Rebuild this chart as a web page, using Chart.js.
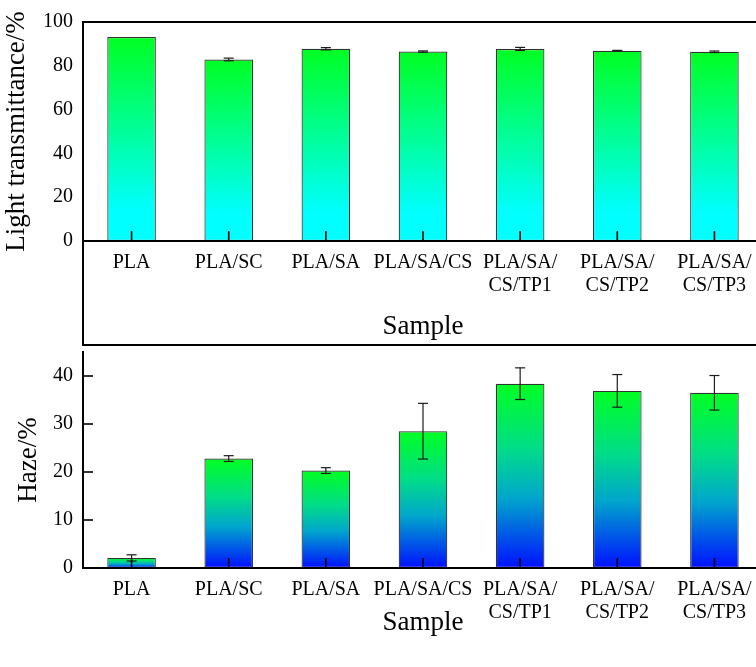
<!DOCTYPE html>
<html>
<head>
<meta charset="utf-8">
<script src="https://cdn.jsdelivr.net/npm/chart.js@4.4.1/dist/chart.umd.min.js"></script>
<style>
  html, body { margin: 0; padding: 0; background: #fff; overflow: hidden; width: 756px; height: 667px; }
  #wrap { position: relative; width: 756px; height: 667px; overflow: hidden; }
  canvas { position: absolute; left: 0; }
  #topChart { top: 0; }
  #bottomChart { top: 330px; }
</style>
</head>
<body>
<div id="wrap">
  <canvas id="topChart" width="770" height="347"></canvas>
  <canvas id="bottomChart" width="770" height="337"></canvas>
</div>
<script>
// Sample names ("\n" marks a line break in the axis label)
const samples = ['PLA', 'PLA/SC', 'PLA/SA', 'PLA/SA/CS', 'PLA/SA/\nCS/TP1', 'PLA/SA/\nCS/TP2', 'PLA/SA/\nCS/TP3'];

// Light transmittance (%) with standard deviation
const transmittance = [93.1, 82.9, 87.8, 86.5, 87.7, 86.9, 86.4];
const transmittanceErr = [0, 0.6, 0.5, 0.3, 0.7, 0.15, 0.35];

// Haze (%) with standard deviation
const haze = [2.1, 22.8, 20.3, 28.5, 38.4, 36.9, 36.5];
const hazeErr = [0.65, 0.6, 0.6, 5.8, 3.3, 3.4, 3.6];

// Axis tick values
const transTicks = [0, 20, 40, 60, 80, 100];
const hazeTicks = [0, 10, 20, 30, 40];

const SERIF = "'Liberation Serif', 'Times New Roman', serif";
const labels = samples.map(s => s.split('\n'));

// Vertical gradient spanning each bar from its top down to the zero line
function barGradient(stops) {
  return (c) => {
    const chart = c.chart;
    if (!chart.chartArea || c.type !== 'data' || !c.parsed) return stops[0][1];
    const y = chart.scales.y;
    const top = y.getPixelForValue(c.parsed.y);
    const base = y.getPixelForValue(0);
    const g = chart.ctx.createLinearGradient(0, top, 0, base);
    stops.forEach(([o, col]) => g.addColorStop(o, col));
    return g;
  };
}

// Error bars, inward tick marks and the panel frame
function decorPlugin(errs, opts) {
  return {
    id: 'decor',
    afterDatasetsDraw(chart) {
      const { ctx, chartArea: a, scales: { x, y } } = chart;
      const W = chart.width, H = chart.height;
      const seg = (x1, y1, x2, y2) => { ctx.beginPath(); ctx.moveTo(x1, y1); ctx.lineTo(x2, y2); ctx.stroke(); };
      ctx.save();
      // error bars
      ctx.strokeStyle = '#1c1c1c';
      ctx.lineWidth = 1.2;
      chart.data.datasets[0].data.forEach((v, i) => {
        const e = errs[i];
        if (!e) return;
        const px = x.getPixelForValue(i);
        const y1 = y.getPixelForValue(v + e), y2 = y.getPixelForValue(v - e);
        seg(px, y1, px, y2);
        seg(px - 5, y1, px + 5, y1);
        seg(px - 5, y2, px + 5, y2);
      });
      // inward ticks on the category axis
      ctx.strokeStyle = '#000';
      ctx.lineWidth = 1.6;
      x.ticks.forEach((t, i) => {
        const px = x.getPixelForTick(i);
        seg(px, a.bottom, px, a.bottom - 10);
      });
      // inward ticks on the value axis
      if (opts.yTicks) {
        y.ticks.forEach((t, i) => {
          const py = y.getPixelForTick(i);
          seg(a.left, py, a.left + 10, py);
        });
      }
      // frame
      ctx.lineWidth = 2;
      ctx.lineCap = 'square';
      seg(a.left, a.bottom, W, a.bottom);
      if (opts.box) {
        seg(a.left, a.top, W, a.top);
        seg(a.left, a.top, a.left, H - 2);
        seg(a.left, H - 2, W, H - 2);
      } else {
        seg(a.left, a.top, a.left, a.bottom);
      }
      ctx.restore();
    }
  };
}

function makeChart(id, values, errs, stops, yCfg, xAxisH, padTop, xTitlePad, yTitlePad, opts) {
  return new Chart(document.getElementById(id), {
    type: 'bar',
    data: {
      labels: labels,
      datasets: [{
        data: values,
        backgroundColor: barGradient(stops),
        borderColor: '#333333',
        borderWidth: 1.2,
        borderSkipped: false,
        categoryPercentage: 1,
        barPercentage: 0.5
      }]
    },
    options: {
      responsive: false,
      animation: false,
      devicePixelRatio: 1,
      layout: { padding: { top: padTop, right: 7, left: 0, bottom: 0 } },
      plugins: { legend: { display: false }, tooltip: { enabled: false } },
      scales: {
        x: {
          offset: true,
          grid: { display: false, drawTicks: false },
          border: { display: false },
          ticks: { color: '#000', padding: 10, maxRotation: 0, autoSkip: false,
                   font: { family: SERIF, size: 20, lineHeight: 1.15 } },
          title: { display: true, text: 'Sample', color: '#000',
                   font: { family: SERIF, size: 27 }, padding: { top: 0, bottom: xTitlePad } },
          afterFit: (s) => { s.height = xAxisH; }
        },
        y: {
          min: yCfg.min,
          max: yCfg.max,
          grid: { display: false, drawTicks: false },
          border: { display: false },
          afterBuildTicks: (s) => { s.ticks = yCfg.ticks.map(v => ({ value: v })); },
          ticks: { color: '#000', padding: 10, font: { family: SERIF, size: 20 } },
          title: { display: true, text: yCfg.title, color: '#000',
                   font: { family: SERIF, size: 27 }, padding: { top: yTitlePad, bottom: 0 } },
          afterFit: (s) => { s.width = 83; }
        }
      }
    },
    plugins: [decorPlugin(errs, opts)]
  });
}

// Upper panel: light transmittance
makeChart('topChart', transmittance, transmittanceErr,
  [[0, '#00ff22'], [0.85, '#00ffff'], [1, '#00ffff']],
  { min: 0, max: 100, ticks: transTicks, title: 'Light transmittance/%' },
  106, 19, 4, 1, { box: true, yTicks: false });

// Lower panel: haze
makeChart('bottomChart', haze, hazeErr,
  [[0, '#00ff22'], [0.35, '#00dd88'], [0.62, '#00a6cc'], [1, '#0010ff']],
  { min: 0, max: 45, ticks: hazeTicks, title: 'Haze/%' },
  99, 15, 28, 13, { box: false, yTicks: true });
</script>
</body>
</html>
